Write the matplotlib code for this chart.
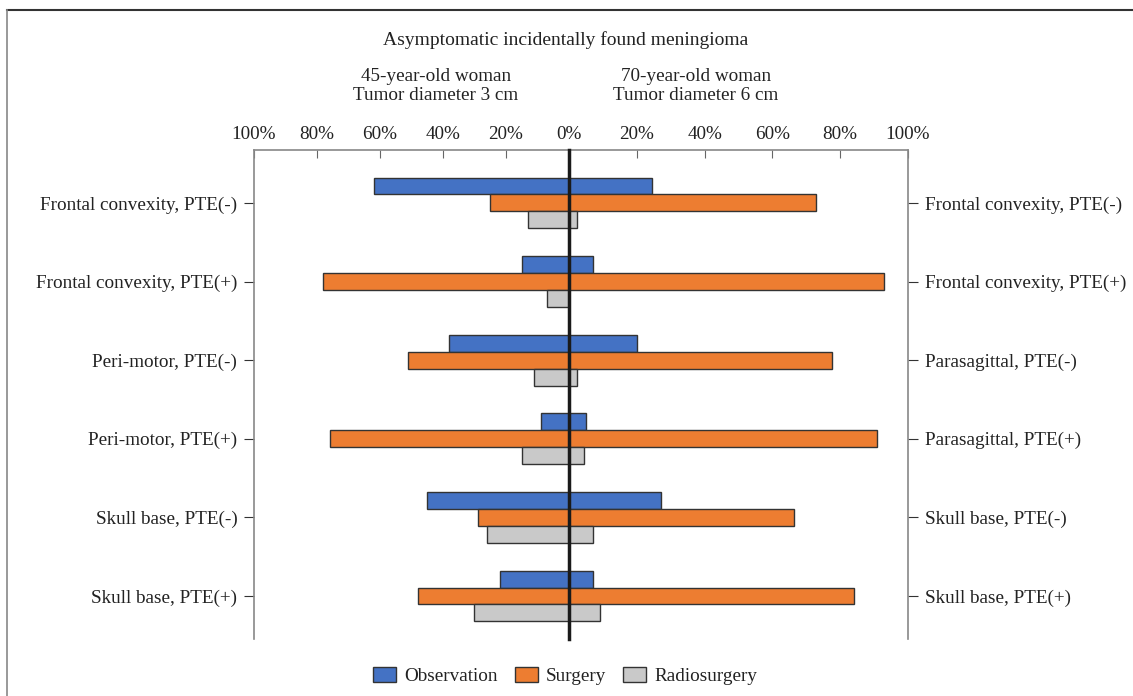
import numpy as np
import matplotlib.pyplot as plt
from matplotlib.patches import Patch
from matplotlib.lines import Line2D

plt.rcParams['font.family'] = ['Liberation Serif', 'DejaVu Serif']

# 왼쪽: 45세 여성, 3 cm / 오른쪽: 70세 여성, 6 cm
left_labels = ["Frontal convexity, PTE(-)", "Frontal convexity, PTE(+)",
               "Peri-motor, PTE(-)", "Peri-motor, PTE(+)",
               "Skull base, PTE(-)", "Skull base, PTE(+)"]
right_labels = ["Frontal convexity, PTE(-)", "Frontal convexity, PTE(+)",
                "Parasagittal, PTE(-)", "Parasagittal, PTE(+)",
                "Skull base, PTE(-)", "Skull base, PTE(+)"]

left_obs = [62, 15, 38, 9, 45, 22]
left_surg = [25, 78, 51, 76, 29, 48]
left_rad = [13, 7, 11, 15, 26, 30]

right_obs = [24.5, 7, 20, 5, 27, 7]
right_surg = [73, 93, 77.5, 91, 66.5, 84]
right_rad = [2.5, 0, 2.5, 4.5, 7, 9]

series_names = ["Observation", "Surgery", "Radiosurgery"]
colors = ["#4472C4", "#ED7D31", "#C9C9C9"]

W, H = 1133, 696
fig = plt.figure(figsize=(W / 100, H / 100), dpi=100)

FS = 13.8
top, bottom = 150, 639
x_left, x_mid, x_right = 254, 569, 908
axL = fig.add_axes([x_left / W, 1 - bottom / H, (x_mid - x_left) / W, (bottom - top) / H])
axR = fig.add_axes([x_mid / W, 1 - bottom / H, (x_right - x_mid) / W, (bottom - top) / H])

y = np.arange(len(left_labels))
h = 0.216
offsets = [-h, 0, h]

for ax, data in [(axL, [left_obs, left_surg, left_rad]),
                 (axR, [right_obs, right_surg, right_rad])]:
    for vals, off, c in zip(data, offsets, colors):
        ax.barh(y + off, vals, height=h, color=c, edgecolor="#333333", linewidth=1.0)
    ax.set_ylim(5.547, -0.674)
    ax.set_yticks(y)
    ax.xaxis.tick_top()
    ax.tick_params(axis="x", direction="in", length=6, color="#666666",
                   labelsize=FS, pad=5, labelcolor="#222222")
    ax.tick_params(axis="y", direction="out", length=7, color="#333333",
                   labelsize=FS, pad=5, labelcolor="#222222")
    ax.spines["bottom"].set_visible(False)
    for s in ax.spines.values():
        s.set_color("#888888")
        s.set_linewidth(1.2)

axL.set_xlim(100, 0)
axL.set_xticks([100, 80, 60, 40, 20, 0])
axL.set_xticklabels([f"{t}%" for t in [100, 80, 60, 40, 20, 0]])
axL.set_yticklabels(left_labels)
axL.spines["right"].set_visible(False)

axR.set_xlim(0, 100)
axR.set_xticks([20, 40, 60, 80, 100])
axR.set_xticklabels([f"{t}%" for t in [20, 40, 60, 80, 100]])
axR.yaxis.tick_right()
axR.set_yticklabels(right_labels)
axR.spines["left"].set_visible(False)

# 가운데 0% 선
axR.axvline(0, color="#1a1a1a", linewidth=2.5, clip_on=False, zorder=5)

fig.text(566 / W, 1 - 40 / H, "Asymptomatic incidentally found meningioma",
         ha="center", va="center", fontsize=14, color="#222222")
fig.text(436 / W, 1 - 86 / H, "45-year-old woman\nTumor diameter 3 cm",
         ha="center", va="center", fontsize=FS, color="#222222", linespacing=1.15)
fig.text(696 / W, 1 - 86 / H, "70-year-old woman\nTumor diameter 6 cm",
         ha="center", va="center", fontsize=FS, color="#222222", linespacing=1.15)

handles = [Patch(facecolor=c, edgecolor="#333333", label=n) for c, n in zip(colors, series_names)]
fig.legend(handles=handles, loc="center", bbox_to_anchor=(565 / W, 1 - 676 / H), ncol=3,
           frameon=False, fontsize=FS, handlelength=1.2, handleheight=0.85,
           columnspacing=0.9, handletextpad=0.42, labelcolor="#222222")

# 바깥 테두리 선
fig.add_artist(Line2D([7 / W, 1], [1 - 9.5 / H, 1 - 9.5 / H], color="#333333", linewidth=1.5))
fig.add_artist(Line2D([7 / W, 7 / W], [0, 1 - 9.5 / H], color="#888888", linewidth=1.2))

fig.savefig("out.png", dpi=100)
